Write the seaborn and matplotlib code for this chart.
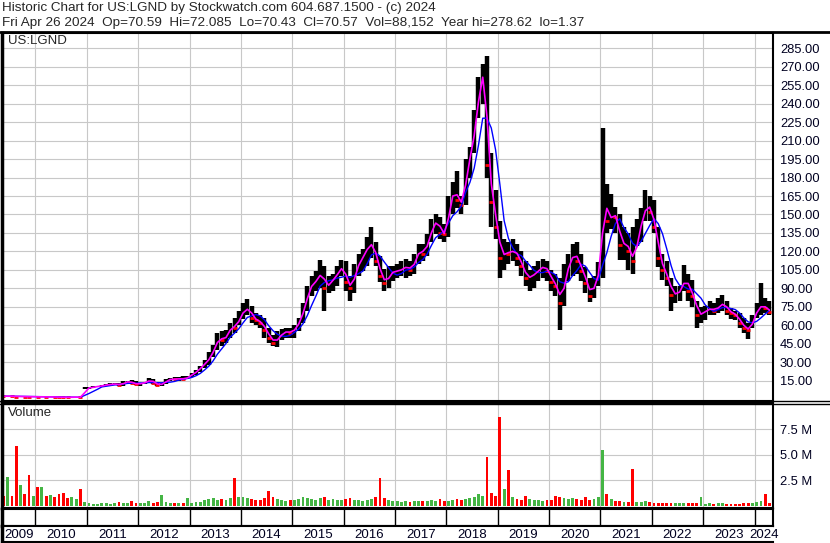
import numpy as np
import pandas as pd
import matplotlib
matplotlib.use("Agg")
import matplotlib.pyplot as plt
import seaborn as sns
from matplotlib.lines import Line2D

sns.set_style("white")
plt.rcParams['font.family'] = ['Liberation Sans', 'DejaVu Sans']

# monthly bars, Apr 2009 .. Apr 2024
months = pd.date_range("2009-04-01", "2024-04-01", freq="MS")
hi = [2.8, 2.6, 2.7, 2.6, 2.4, 2.4, 2.3, 2.1, 2.1,
      2.1, 2.0, 2.0, 2.0, 1.9, 1.8, 1.7, 1.7, 1.8, 1.8, 1.7, 9.6,
      9.8, 10.5, 11.0, 11.6, 12.5, 12.8, 13.5, 13.0, 14.5, 15.0, 15.5, 14.5,
      13.5, 14.0, 17.0, 16.0, 13.5, 13.0, 16.0, 17.5, 18.0, 18.0, 18.5, 19.0,
      21, 24, 27, 32, 38, 44, 54, 55, 56, 62, 66, 72,
      78, 81, 76, 70, 68, 66, 58, 52, 55, 57, 58, 58,
      60, 66, 78, 92, 100, 104, 113, 108, 100, 102, 108, 113,
      112, 100, 110, 118, 122, 132, 140, 128, 116, 106, 108, 108,
      110, 112, 114, 112, 118, 126, 126, 134, 146, 150, 148, 142,
      165, 176, 185, 165, 195, 205, 235, 262, 272, 279, 200, 170,
      145, 130, 128, 130, 126, 120, 112, 105, 108, 112, 114, 112,
      105, 102, 98, 110, 118, 126, 128, 118, 107, 98, 100, 111,
      220, 175, 167, 156, 150, 140, 135, 140, 146, 155, 170, 165,
      162, 140, 118, 112, 98, 92, 92, 109, 102, 97, 80, 75,
      76, 80, 78, 82, 85, 80, 74, 72, 70, 66, 62, 68,
      78, 94, 82, 80]
lo = [2.2, 2.1, 2.2, 2.1, 1.8, 1.9, 1.8, 1.6, 1.7,
      1.7, 1.7, 1.6, 1.6, 1.5, 1.4, 1.37, 1.4, 1.4, 1.5, 1.4, 8.2,
      8.3, 8.8, 9.5, 10.0, 10.5, 11.0, 11.5, 10.5, 11.0, 12.5, 12.0, 11.5,
      11.0, 12.0, 13.0, 12.5, 10.5, 10.5, 12.5, 14.5, 15.5, 15.0, 15.5, 16.0,
      18, 20, 22, 25, 28, 34, 40, 43, 46, 50, 54, 60,
      65, 68, 62, 60, 58, 50, 46, 43, 42, 48, 50, 50,
      50, 55, 62, 72, 84, 88, 90, 72, 86, 88, 92, 100,
      88, 80, 86, 100, 104, 108, 115, 108, 95, 88, 90, 96,
      98, 100, 98, 100, 102, 110, 112, 116, 128, 134, 130, 128,
      132, 150, 155, 150, 158, 180, 200, 228, 240, 180, 140, 130,
      98, 105, 110, 112, 108, 100, 92, 88, 90, 96, 98, 96,
      88, 84, 56, 76, 96, 100, 102, 96, 86, 79, 82, 92,
      98, 135, 138, 135, 113, 113, 105, 102, 124, 128, 145, 145,
      135, 107, 97, 92, 72, 78, 80, 88, 80, 75, 58, 62,
      64, 68, 68, 70, 72, 68, 65, 64, 58, 54, 49, 58,
      66, 68, 70, 68]
cl = [2.5, 2.3, 2.45, 2.35, 2.1, 2.2, 2.0, 1.9, 1.95,
      1.85, 1.9, 1.8, 1.85, 1.7, 1.6, 1.55, 1.5, 1.6, 1.65, 1.5, 9.0,
      9.2, 10.0, 10.5, 11.0, 11.8, 12.0, 12.5, 11.5, 13.5, 14.5, 13.0, 12.0,
      13.0, 13.5, 16.0, 13.0, 11.5, 12.5, 15.5, 16.5, 16.0, 17.0, 16.0, 18.5,
      20.5, 23, 26.5, 30, 34, 42, 50, 48, 52, 60, 58, 68,
      72, 74, 66, 64, 62, 56, 50, 46, 50, 54, 55, 54,
      58, 64, 75, 88, 95, 96, 105, 90, 95, 98, 104, 108,
      95, 90, 105, 112, 118, 125, 126, 112, 100, 94, 102, 104,
      104, 106, 108, 105, 114, 122, 118, 130, 140, 146, 135, 134,
      160, 170, 162, 158, 190, 200, 228, 255, 268, 190, 160, 140,
      115, 120, 118, 122, 115, 108, 98, 100, 102, 106, 108, 104,
      95, 92, 78, 102, 110, 120, 112, 104, 94, 84, 96, 105,
      165, 145, 150, 148, 125, 128, 120, 112, 135, 146, 160, 152,
      140, 115, 105, 98, 85, 86, 88, 100, 88, 84, 68, 70,
      72, 74, 72, 76, 78, 72, 70, 68, 62, 58, 56, 66,
      74, 76, 74, 70.57]
# volume in millions
vol = [0.8, 1.0, 2.85, 1.0, 5.86, 2.0, 1.2, 3.0, 1.0,
       1.8, 1.8, 1.0, 1.1, 0.9, 1.2, 1.3, 0.8, 0.9, 0.7, 1.6, 0.4,
       0.3, 0.2, 0.2, 0.25, 0.3, 0.2, 0.25, 0.4, 0.3, 0.3, 0.5, 0.3,
       0.3, 0.25, 0.5, 0.3, 0.35, 1.1, 0.4, 0.3, 0.25, 0.3, 0.3, 0.8,
       0.3, 0.35, 0.4, 0.6, 0.7, 0.8, 0.6, 0.7, 0.6, 0.8, 2.7, 0.9,
       0.9, 0.8, 0.7, 0.6, 0.6, 0.8, 1.4, 0.9, 0.7, 0.6, 0.5, 0.6,
       0.6, 0.7, 0.9, 0.8, 0.7, 0.6, 0.8, 0.9, 0.6, 0.7, 0.6, 0.6,
       0.7, 0.8, 0.6, 0.6, 0.5, 0.6, 0.7, 0.9, 2.7, 0.8, 0.6, 0.5,
       0.5, 0.4, 0.5, 0.4, 0.5, 0.45, 0.5, 0.5, 0.6, 0.5, 0.7, 0.5,
       0.5, 0.6, 0.7, 0.6, 0.7, 0.8, 0.9, 1.2, 1.0, 4.8, 1.3, 1.0,
       8.7, 1.6, 3.5, 0.9, 0.7, 0.6, 1.0, 0.7, 0.6, 0.6, 0.5, 0.6,
       0.6, 1.0, 0.9, 0.8, 0.7, 0.8, 0.7, 0.6, 0.9, 0.6, 0.7, 0.9,
       5.5, 1.2, 0.7, 0.5, 0.5, 0.4, 0.4, 3.6, 0.4, 0.4, 0.5, 0.4,
       0.3, 0.3, 0.3, 0.25, 0.3, 0.25, 0.3, 0.25, 0.3, 0.25, 0.3, 0.9,
       0.2, 0.25, 0.2, 0.3, 0.25, 0.2, 0.2, 0.2, 0.2, 0.25, 0.3, 0.3,
       0.4, 0.5, 1.2, 0.3]

price_ticks = list(range(15, 286, 15))
vol_ticks = [2.5, 5.0, 7.5]
years = list(range(2009, 2025))

title1 = "Historic Chart for US:LGND by Stockwatch.com 604.687.1500 - (c) 2024"
title2 = "Fri Apr 26 2024  Op=70.59  Hi=72.085  Lo=70.43  Cl=70.57  Vol=88,152  Year hi=278.62  lo=1.37"

df = pd.DataFrame({"date": months, "hi": hi, "lo": lo, "cl": cl, "vol": vol})
df["t"] = df.date.dt.year + (df.date.dt.month - 1) / 12 + 1 / 24
df["ma_short"] = df.cl.rolling(2, min_periods=1).mean()
df["ma_long"] = df.cl.rolling(5, min_periods=1).mean()
df["down"] = df.cl.diff() < 0

W, H = 830, 543
fig = plt.figure(figsize=(W / 100, H / 100), dpi=100)


def box(top, bottom, left=2, right=773):
    return [left / W, 1 - bottom / H, (right - left) / W, (bottom - top) / H]


ax = fig.add_axes(box(33, 401))
axv = fig.add_axes(box(403, 508))
axs = fig.add_axes(box(509, 526))
axl = fig.add_axes(box(526, 542))

x0, x1 = 2009.348, 2024.36
for a in (ax, axv, axs, axl):
    a.set_xlim(x0, x1)
    for s in a.spines.values():
        s.set_color("black")
        s.set_linewidth(1.5)
    a.spines["left"].set_linewidth(2.5)

for a in (ax, axv):
    a.set_xticks(years[1:])
    a.grid(True, color="#c8c8c8", lw=0.8)
    a.set_axisbelow(True)
    a.tick_params(axis="x", length=0, labelbottom=False)
    a.yaxis.tick_right()
    a.tick_params(axis="y", length=0, pad=5, labelsize=9.3, labelcolor="#000020")

# price panel
ax.set_ylim(-1.5, 297.4)
ax.set_yticks(price_ticks)
ax.set_yticklabels([f"{v:.2f}" for v in price_ticks])
ax.vlines(df.t, df.lo, df.hi, color="black", lw=3.2)
d = df[df.down]
ax.plot(d.t, d.cl, ls="none", marker="_", color="red", ms=3, mew=2)
sns.lineplot(data=df, x="t", y="ma_long", color="blue", lw=1, ax=ax)
sns.lineplot(data=df, x="t", y="ma_short", color="magenta", lw=1.2, ax=ax)
ax.set_xlabel("")
ax.set_ylabel("")

# volume panel
colors = np.where(df.down, "#ff0000", "#44b544")
axv.bar(df.t, df.vol, width=0.055, color=colors, linewidth=0)
axv.set_ylim(-0.22, 10.08)
axv.set_yticks(vol_ticks)
axv.set_yticklabels([f"{v:.1f} M" for v in vol_ticks])

# date strip and year labels
for a in (axs, axl):
    a.set_yticks([])
    a.set_xticks([])
    a.set_ylim(0, 1)
for y in years[1:]:
    axs.axvline(y, color="black", lw=1)
for y in years:
    c = (max(y, x0) + min(y + 1, x1)) / 2
    axl.text(c, 0.45, str(y), ha="center", va="center", fontsize=9.5,
             color="#000020", clip_on=False)
axl.spines["right"].set_visible(False)

# frame lines across the full width
for yy, lw in [(32, 2), (401, 1), (403.5, 1)]:
    fig.add_artist(Line2D([0, 1], [1 - yy / H] * 2, color="black", lw=lw,
                          transform=fig.transFigure))

fig.text(2 / W, 1 - 8.5 / H, title1, va="center", fontsize=9.7)
fig.text(2 / W, 1 - 23 / H, title2, va="center", fontsize=9.7)
fig.text(8 / W, 1 - 41.5 / H, "US:LGND", va="center", fontsize=9.5)
fig.text(8 / W, 1 - 413 / H, "Volume", va="center", fontsize=9.5)

fig.savefig("out.png", dpi=100)
